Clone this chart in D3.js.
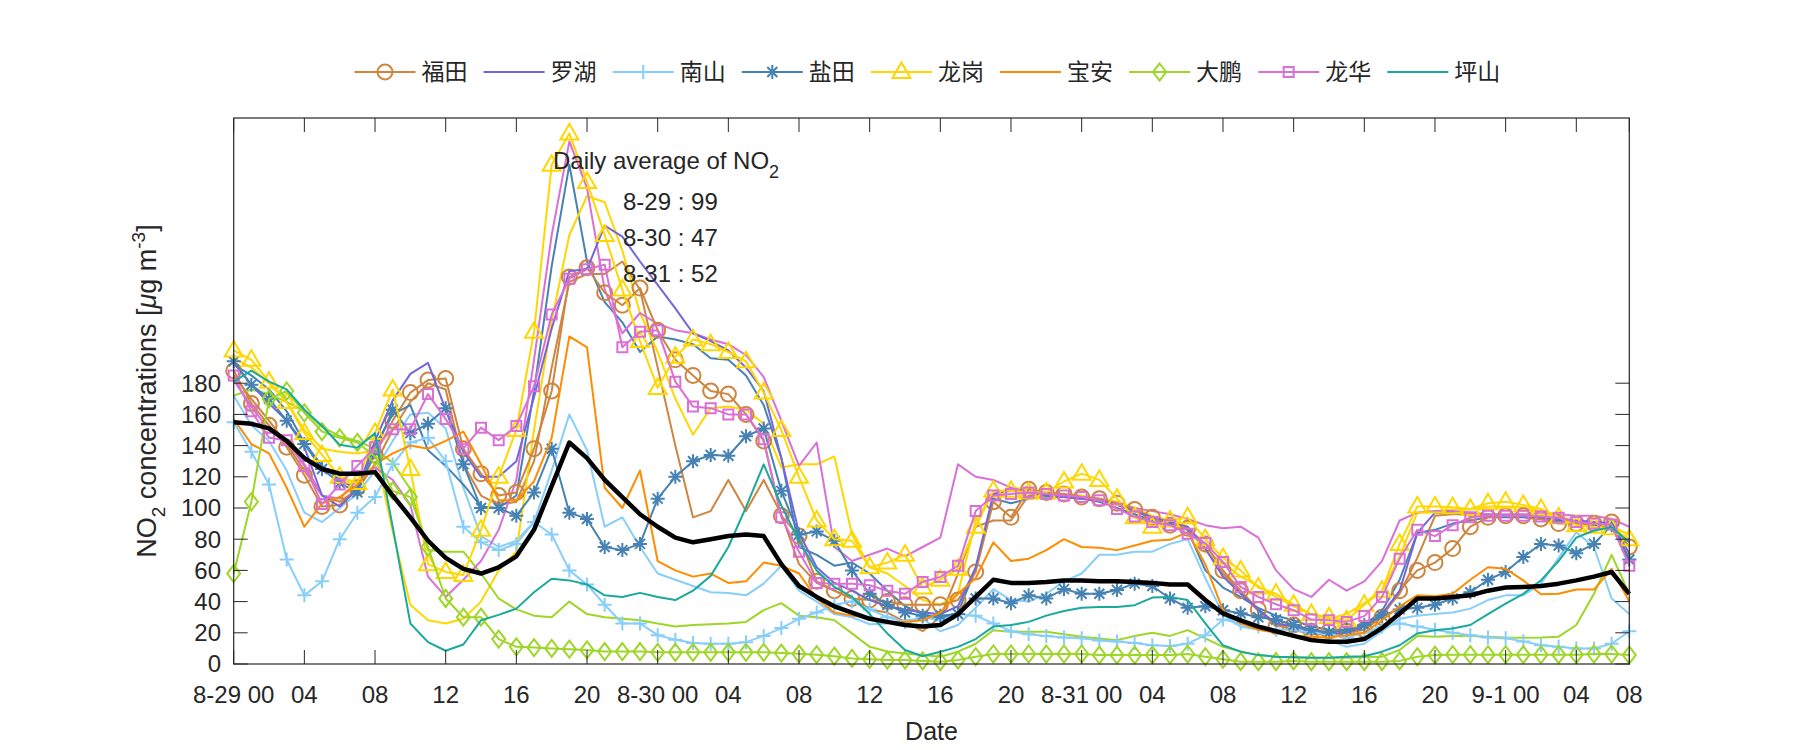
<!DOCTYPE html>
<html><head><meta charset="utf-8">
<script src="https://cdn.jsdelivr.net/npm/d3@7"></script>
<style>
body{margin:0;background:#fff;}
svg text{font-family:"Liberation Sans",Arial,sans-serif;fill:#262626;}
</style></head><body>
<svg id="chart" width="1800" height="750"></svg>
<script>
// ---------------- data ----------------
const hourIndex = d3.range(80); // hourly samples 8-29 00 .. 9-1 07
const tickIdx = [0,4,8,12,16,20,24,28,32,36,40,44,48,52,56,60,64,68,72,76,79];
const tickLabels = ["8-29 00","04","08","12","16","20","8-30 00","04","08","12","16","20","8-31 00","04","08","12","16","20","9-1 00","04","08"];
const yTicks = [0,20,40,60,80,100,120,140,160,180];
const districts = ["福田","罗湖","南山","盐田","龙岗","宝安","大鹏","龙华","坪山"];
const annotationLines = ["8-29 : 99","8-30 : 47","8-31 : 52"];

const futian = [188,167,153,139,121,101,102,113,134,156, 174,182,183,138,122,108,110,138,175,248,
 254,238,230,241,214,195,185,175,173,160, 143,95,82,53,47,42,41,40,38,38,
 38,41,59,104,94,112,110,109,107,106, 103,99,94,89,87,77,60,47,35,24,
 25,21,21,21,22,30,47,60,65,74, 88,94,95,95,93,90,90,90,91,75];
const futian2 = [185,170,156,141,124,108,104,112,128,150, 168,180,176,128,108,102,104,130,190,245,
 250,250,258,240,190,140,94,98,118,98, 118,96,64,52,47,42,35,33,27,21,
 30,58,88,92,92,108,109,108,107,106, 102,98,93,89,86,74,58,46,34,25,
 22,19,19,20,22,32,45,68,95,96, 96,96,95,95,93,91,90,90,90,68];
const luohu = [193,179,167,156,139,108,101,112,143,169, 186,193,163,136,120,120,130,171,215,252,
 253,281,274,258,243,228,212,207,201,190, 175,132,84,62,52,47,41,37,35,33,
 32,37,62,109,111,110,108,107,106,105, 102,98,94,91,88,74,56,45,35,26,
 24,21,19,20,24,32,47,84,97,97, 95,95,95,95,94,93,92,91,90,71];
const nanshan = [155,136,115,67,44,53,80,97,107,128, 142,145,130,88,78,73,77,91,83,60,
 51,38,26,26,18.5,15.5,13.5,13,13,14, 18,23,29,33,38,40,35,30,27,30,
 28,32,31,26,21,19,18,17,16.5,15, 14.5,13.5,12,11.5,13,18.5,28.5,26,24,22,
 22,20,19,17,20,24,26,24,22,20, 18.5,17,16.5,14.5,12,11,10,10,13,21];
const nanshan2 = [172,153,143,124,97,91,100,109,124,143, 160,161,151,113,82,75,79,91,124,160,
 137,88,94,75,58,54,50,46,45.5,44, 51.5,63,47,40,32,30,25.5,26,28,29,
 21,25,36,48,41,40,45,53,58,70, 70,72,72,77,80,55,32,24,22,21,
 17.5,15,15,11,13,21,29,31,32,33, 35.5,41,44,44,51.5,68,84.5,75,42,32];
const yantian = [194,179,170,156,141,125,116,110,136,163, 148,154,164,128,100,100,95,110,138,97,
 93,75,73,77,106,120,130,134,133.5,146, 151,111,83,85,79,60,45,38,33,31,
 31,32,42,42,39,44,42,48,45,45, 47.5,51.5,50,42,36,37,34.5,32.5,30,28.5,
 25,22,20,22,25,31,35,36,38,42, 46,54,59,68.6,77,76,71,77,89,67];
const yantian2 = [192,185,176,162,142,127,118,112,140,160, 166,137,127,115,101,100,108,175,255,320,
 258,232,219,200,210,208,205,196,195,185, 166,132,75,70,63,65,58,47,37,32,
 29,33,61,106,103,106,107,107,106,104, 100,96,92,90,86,60,49,43,36,31,
 28,24,22,22,25,34,54,84,86,90, 92,94,94,94,93,92,90,89,88,66];
const longgang = [201,195,181,168,148,134,120,116,148,176, 125,64,59,57,86,120,150,213,320,340,
 309,275,240,207,177,197,208,205,200,194, 174,150,120,92,80,79,62,65,70,49,
 54,61,88,111,111,110,110,117,122,118, 106,94,88,92,94,80,68,60,49,45,
 38,32,30,28,38,47,77,101,101,100.5, 99.4,103,104,102,99.4,94,89,88,87,80];
const longgang2 = [196,190,180,168,150,138,136,135,137,85, 38,28,26,29,40,60,72,150,220,275,
 300,296,265,225,200,170,147,164,165,163, 154,126,128,128,133,83,62,58,50,41,
 38,45,92,109,113,112,110,109,108,106, 104,100,95,92,88,72,65,56,50,43,
 37,32,29,32,39,47,69,97,98,99, 99,101,101,100.5,98,96,90,90,88,83];
const baoan = [157,141,135,113,88,103,107,115,128,135, 140,138,143,149,128,105,105,117,145,210,
 203,113,100,124,66,60,56,58,52,53, 65,63,58,42,33,31,30,27,27,28,
 33,45,55,78,66,67.5,73,80,75,74.5, 73,76,79,79.6,84.5,64,34.5,26,22,20,
 18,17.5,17,18.5,20,28,37,44,43.5,45, 54,62,61,53.6,44.7,45,47.7,47.7,61,40];
const dapeng = [58,104,170,175,161,149,145,142,133,111, 107,75,42,30,30,16,11,10.5,10,9.5,
 9,8,8,8,7.5,7.5,7.5,7.5,7.5,7.5, 7.5,7,6.5,6,5,3.6,3,2.5,2.5,2,
 1.5,2.5,4.7,6.4,6.4,6.4,6.4,6.4,6.4,5.7, 5.7,5.7,5.7,5.7,6.4,4.7,3,1.5,1.5,1.5,
 2,1.5,1.5,1.5,1.5,1.5,2,4.7,5.7,6, 6,6,6,6,6,6,6,6.4,6.4,5.7];
const dapeng2 = [172,176,173,168,162,152,146,143,138,129, 112,73,72,72,58,42,35,31,30,40,
 32,30,29,28,26,24,25,25.5,26,27, 34.5,39,31,30,28,19.6,11,8,6.8,5.7,
 4.7,7.9,13,21.7,20.7,20.7,20.7,19,17.5,16.4, 15.3,18,20,18,21.7,16.4,11,8,5.7,4.7,
 4.3,4,4,4,4.5,4.7,9,18,17.5,18, 18,17.5,17,16.8,17,17.5,25,45,70,45];
const longhua = [185,162,145,143.5,127,102.6,115,127,139,150.5, 150.5,173,157,138,151.5,143.5,152.6,178,224,247,
 253,256,203,213,214,181,165,164,160,160, 144,94,72,52,51.5,51.5,50.5,47,45,52.6,
 55.8,63,98,108,109,110,109,108,107,105, 99.4,94.5,91,89,83.5,77.5,65.4,49.4,43,38.3,
 34.5,28.5,28,27,30.7,43,67.5,86,82,89, 94,95,95,95,94.5,93.7,91,90,89.4,63];
const longhua2 = [182,165,150,142,128,108,106,118,126,118, 102,56,43,54,66,86,118,195,275,335,
 305,240,212,225,218,214,212,208,205,198, 184,156,127,142,75,66,70,74,69,75,
 81,128,120,118,113,110,109,108,106,105, 103,100,98,96,93,89,87,88,81,60,
 48,43,54,47,53,66,92,97,98,98, 97,96,96,96,96,96,95,95,93,88];
const pingshan = [181,188,181,176,163,152.6,140.5,138.7,148,88, 26,14,8.5,12.5,28,31.5,35.5,46,54.7,53.6,
 51,44,43,45.6,43,41,47,56.5,75,100.5, 128,101.6,79,60,49.4,43,32,19.6,9,5,
 7.9,11,16,24,25,27,31,34,36,36.6, 36.6,37.7,42.6,43,41,26,12,7.9,5.7,4.7,
 4.3,4,4,4.7,5,7.9,12,19.6,21.7,22.8, 25,32,38.7,45,53.6,66,81,85.6,87.7,78];
const average = [155,154,151,143,132,125,122,122,123,108, 94,79,68,61,58,62,69,86,114,142,
 132,118,107,96,88,81,78,80,82,83, 82,64,50,43,37,33,29,27,25,24,
 25,32,43,54,52,52,52.5,53.5,53.5,53, 53,52.6,52,51,51,41,32.4,28,24,21,
 18,15.3,14.3,14.3,16,23,32.4,42,42,43, 44,47,49,49.4,50,51.5,53.6,56,59,45];

// ---------------- styles ----------------
const colors = {"福田":"#CD853F","罗湖":"#7466DC","南山":"#87CEFA","盐田":"#4682B4","龙岗":"#FFD700",
  "宝安":"#FF8C00","大鹏":"#9ED628","龙华":"#DA70D6","坪山":"#1AA99D"};
const markerOf = {"福田":"circle","罗湖":null,"南山":"plus","盐田":"star","龙岗":"triangle",
  "宝安":null,"大鹏":"diamond","龙华":"square","坪山":null};
const mainSeries = {"福田":futian,"罗湖":luohu,"南山":nanshan,"盐田":yantian,"龙岗":longgang,
  "宝安":baoan,"大鹏":dapeng,"龙华":longhua,"坪山":pingshan};
const extraSeries = [["福田",futian2],["南山",nanshan2],["盐田",yantian2],["龙岗",longgang2],["大鹏",dapeng2],["龙华",longhua2]];

const markerPath = {
  circle: "M-7.5,0A7.5,7.5 0 1,0 7.5,0A7.5,7.5 0 1,0 -7.5,0Z",
  triangle: "M0,-9.5L9,6L-9,6Z",
  square: "M-5,-5H5V5H-5Z",
  diamond: "M0,-8.5L6.5,0L0,8.5L-6.5,0Z",
  plus: "M-7,0H7M0,-7V7",
  star: "M-7,0H7M0,-7V7M-5,-5L5,5M-5,5L5,-5"
};

// ---------------- layout ----------------
const svg = d3.select("#chart");
const L = 233.7, R = 1629.3, T = 118, B = 664;
const x = d3.scaleLinear().domain([0,79]).range([L,R]);
const y = d3.scaleLinear().domain([0,350]).range([B,T]);
const axisColor = "#262626";
const tickLen = 14;

const line = d3.line().x((d,i)=>x(hourIndex[i])).y(d=>y(d));

const plot = svg.append("g");
function drawSeries(name, data, withMarker, width){
  const c = colors[name];
  plot.append("path").datum(data).attr("d", line)
    .attr("fill","none").attr("stroke",c).attr("stroke-width",width)
    .attr("stroke-linejoin","round");
  const m = withMarker ? markerOf[name] : null;
  if (m){
    plot.append("g").selectAll("path").data(data).join("path")
      .attr("transform",(d,i)=>`translate(${x(hourIndex[i])},${y(d)})`)
      .attr("d", markerPath[m]).attr("fill","none").attr("stroke",c).attr("stroke-width",2);
  }
}
// secondary stations first, then main ones
extraSeries.forEach(([n,d])=>drawSeries(n,d,false,2));
districts.forEach(n=>drawSeries(n, mainSeries[n], true, 2));
// regional average
plot.append("path").datum(average).attr("d",line).attr("fill","none")
  .attr("stroke","#000").attr("stroke-width",4.5).attr("stroke-linejoin","round");

// ---------------- axes / box ----------------
const ax = svg.append("g");
ax.append("rect").attr("x",L).attr("y",T).attr("width",R-L).attr("height",B-T)
  .attr("fill","none").attr("stroke",axisColor).attr("stroke-width",1.2);
tickIdx.forEach((t,k)=>{
  const xx = x(t);
  ax.append("line").attr("x1",xx).attr("x2",xx).attr("y1",B).attr("y2",B-tickLen).attr("stroke",axisColor);
  ax.append("line").attr("x1",xx).attr("x2",xx).attr("y1",T).attr("y2",T+tickLen).attr("stroke",axisColor);
  ax.append("text").attr("x",xx).attr("y",703).attr("text-anchor","middle")
    .attr("font-size",24).text(tickLabels[k]);
});
yTicks.forEach(v=>{
  const yy = y(v);
  ax.append("line").attr("x1",L).attr("x2",L+tickLen).attr("y1",yy).attr("y2",yy).attr("stroke",axisColor);
  ax.append("line").attr("x1",R).attr("x2",R-tickLen).attr("y1",yy).attr("y2",yy).attr("stroke",axisColor);
  ax.append("text").attr("x",221).attr("y",yy).attr("dy","0.35em").attr("text-anchor","end")
    .attr("font-size",24).text(v);
});
ax.append("text").attr("x",(L+R)/2).attr("y",740).attr("text-anchor","middle")
  .attr("font-size",25).text("Date");

const yl = ax.append("text").attr("transform",`translate(156,${(T+B)/2}) rotate(-90)`)
  .attr("text-anchor","middle").attr("font-size",27);
yl.append("tspan").text("NO");
yl.append("tspan").attr("dy",9).attr("font-size",19).text("2");
yl.append("tspan").attr("dy",-9).text(" concentrations [");
yl.append("tspan").attr("font-style","italic").text("μ");
yl.append("tspan").text("g m");
yl.append("tspan").attr("dy",-11).attr("font-size",19).text("-3");
yl.append("tspan").attr("dy",11).text("]");

// ---------------- annotation ----------------
const ann = svg.append("g");
const t0 = ann.append("text").attr("x",553).attr("y",169).attr("font-size",24).attr("fill","#000");
t0.append("tspan").text("Daily average of NO");
t0.append("tspan").attr("dy",9).attr("font-size",18).text("2");
annotationLines.forEach((s,k)=>{
  ann.append("text").attr("x",623).attr("y",210+k*36).attr("font-size",24).text(s);
});

// ---------------- legend ----------------
const lg = svg.append("g");
districts.forEach((n,k)=>{
  const lx = 354.5 + k*129.1, ly = 72;
  lg.append("line").attr("x1",lx).attr("x2",lx+61).attr("y1",ly).attr("y2",ly)
    .attr("stroke",colors[n]).attr("stroke-width",2);
  if (markerOf[n]) lg.append("path").attr("transform",`translate(${lx+30.5},${ly})`)
    .attr("d",markerPath[markerOf[n]]).attr("fill","none").attr("stroke",colors[n]).attr("stroke-width",2);
  lg.append("text").attr("x",lx+67).attr("y",ly).attr("dy","0.36em")
    .attr("font-size",23).style("font-family","'Noto Sans CJK SC',sans-serif").text(n);
});
</script>
</body></html>
